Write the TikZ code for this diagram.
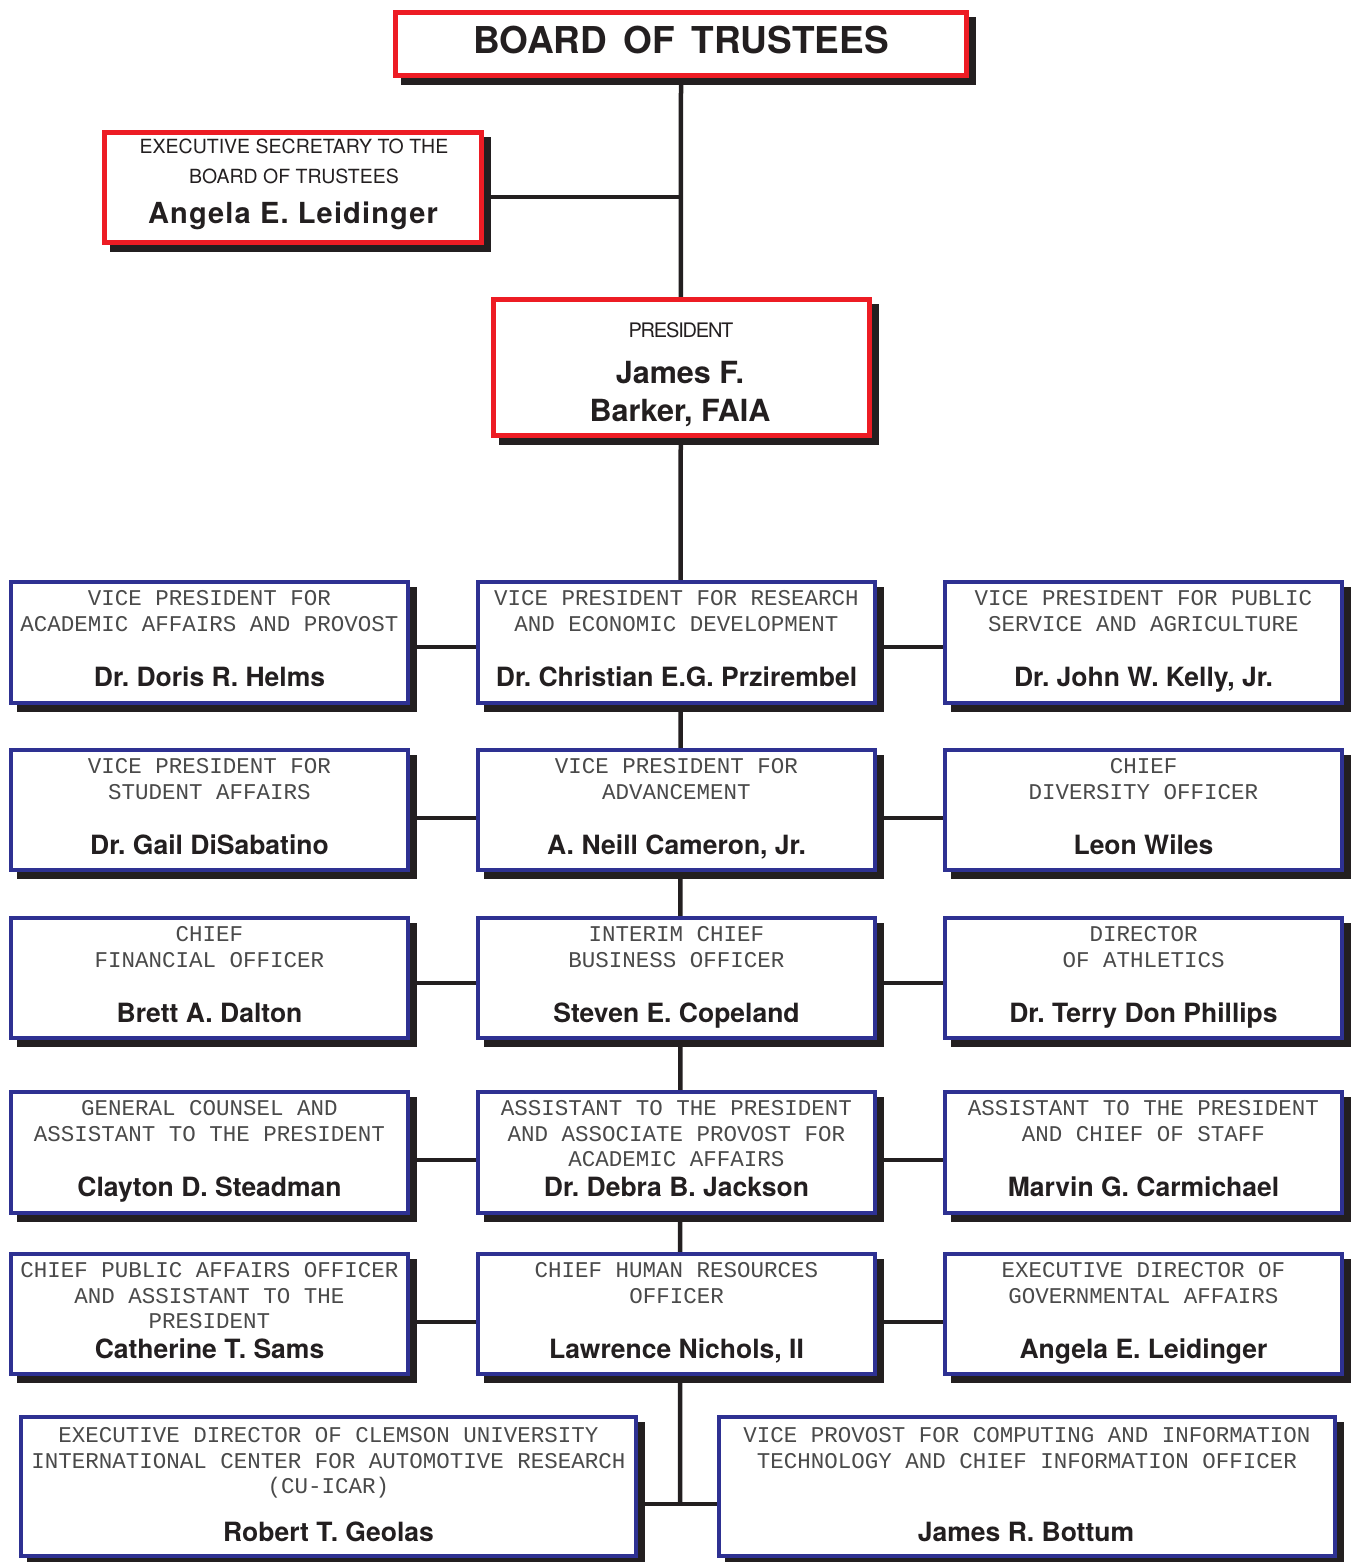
\documentclass[tikz,border=0pt]{standalone}
\usepackage{fontspec}
\setmainfont{TeX Gyre Heros}
\newfontfamily\monof{Liberation Mono}
\definecolor{redc}{HTML}{ED1C24}
\definecolor{bluec}{HTML}{2E3192}
\definecolor{shadowc}{HTML}{231F20}
\definecolor{txtc}{HTML}{231F20}
\definecolor{monoc}{HTML}{4A4A4A}
\tikzset{
  boxsty/.style={rectangle, fill=white, inner sep=0pt, outer sep=0pt},
  conn/.style={draw=shadowc, line width=4.5pt},
  mono/.style={font=\monof\fontsize{22.5}{26}\selectfont, text=monoc, inner sep=0pt, anchor=base},
  pname/.style={font=\bfseries\fontsize{26.5}{30}\selectfont, text=txtc, inner sep=0pt, anchor=base},
  stitle/.style={font=\fontsize{19.5}{22}\selectfont, text=txtc, inner sep=0pt, anchor=base},
}
% #1 name, #2 x1, #3 y1, #4 x2, #5 y2, #6 colour, #7 line width
\newcommand\orgbox[7]{%
  \fill[shadowc] ({#2+8},{#3+7}) rectangle ({#4+7},{#5+7});
  \node[boxsty, draw=#6, line width=#7pt, minimum width={#4-#2-#7}, minimum height={#5-#3-#7}]
    (#1) at ({(#2+#4)/2},{(#3+#5)/2}) {};
}
\begin{document}
\frenchspacing
\begin{tikzpicture}[x=1pt,y=-1pt]
\useasboundingbox (0,0) rectangle (1353,1562);
% ---------- connectors (behind the boxes) ----------
\coordinate (boardS) at (681,78);
\coordinate (bottomJ) at (680,1504);
\draw[conn] (boardS) -- (bottomJ);
\draw[conn] (484,197) coordinate (secE) -- (680,197) coordinate (secJ);
\foreach \yy/\nn in {647/1,818/2,983/3,1160/4,1322/5}{
  \draw[conn] (410,\yy) coordinate (le\nn) -- (476,\yy) coordinate (mw\nn);
  \draw[conn] (877,\yy) coordinate (me\nn) -- (943,\yy) coordinate (rw\nn);
}
\draw[conn] (638,1504) coordinate (blE) -- (bottomJ) -- (717,1504) coordinate (brW);

% ---------- red boxes ----------
\orgbox{board}{393}{10}{969}{78}{redc}{5}
\orgbox{sec}{102}{130}{484}{245}{redc}{5}
\orgbox{pres}{491}{297}{872}{438}{redc}{5}
% ---------- blue boxes ----------
\orgbox{L1}{9}{580}{410}{705}{bluec}{4}
\orgbox{M1}{476}{580}{877}{705}{bluec}{4}
\orgbox{R1}{943}{580}{1344}{705}{bluec}{4}
\orgbox{L2}{9}{748}{410}{872}{bluec}{4}
\orgbox{M2}{476}{748}{877}{872}{bluec}{4}
\orgbox{R2}{943}{748}{1344}{872}{bluec}{4}
\orgbox{L3}{9}{916}{410}{1040}{bluec}{4}
\orgbox{M3}{476}{916}{877}{1040}{bluec}{4}
\orgbox{R3}{943}{916}{1344}{1040}{bluec}{4}
\orgbox{L4}{9}{1090}{410}{1215}{bluec}{4}
\orgbox{M4}{476}{1090}{877}{1215}{bluec}{4}
\orgbox{R4}{943}{1090}{1344}{1215}{bluec}{4}
\orgbox{L5}{9}{1252}{410}{1376}{bluec}{4}
\orgbox{M5}{476}{1252}{877}{1376}{bluec}{4}
\orgbox{R5}{943}{1252}{1344}{1376}{bluec}{4}
\orgbox{BL}{19}{1415}{638}{1558}{bluec}{4}
\orgbox{BR}{717}{1415}{1337}{1558}{bluec}{4}

% ---------- texts ----------
\node[inner sep=0pt, anchor=base, text=txtc, font=\bfseries\fontsize{37}{40}\selectfont] (tboard) at (681,54) {BOARD\hspace{0.45em}OF\hspace{0.45em}TRUSTEES};

\node[stitle] (tsec1) at (294,154) {EXECUTIVE SECRETARY TO THE};
\node[stitle] (tsec2) at (294,184) {BOARD OF TRUSTEES};
\node[pname, font=\bfseries\fontsize{29}{32}\selectfont\addfontfeature{LetterSpace=4}] (tsec3) at (293,224) {Angela E. Leidinger};

\node[stitle, font=\fontsize{20}{22}\selectfont\addfontfeature{LetterSpace=-6}] (tpres1) at (681,337) {PRESIDENT};
\node[pname, font=\bfseries\fontsize{30.5}{34}\selectfont] (tpres2) at (680,383) {James F.};
\node[pname, font=\bfseries\fontsize{30.5}{34}\selectfont] (tpres3) at (680,421) {Barker, FAIA};

% row 1
\node[mono] (a1) at (209.5,605) {VICE PRESIDENT FOR};
\node[mono] (a2) at (209.5,631) {ACADEMIC AFFAIRS AND PROVOST};
\node[pname] (a3) at (209.5,686) {Dr. Doris R. Helms};
\node[mono] (b1) at (676.5,605) {VICE PRESIDENT FOR RESEARCH};
\node[mono] (b2) at (676.5,631) {AND ECONOMIC DEVELOPMENT};
\node[pname] (b3) at (676.5,686) {Dr. Christian E.G. Przirembel};
\node[mono] (c1) at (1143.5,605) {VICE PRESIDENT FOR PUBLIC};
\node[mono] (c2) at (1143.5,631) {SERVICE AND AGRICULTURE};
\node[pname] (c3) at (1143.5,686) {Dr. John W. Kelly, Jr.};
% row 2
\node[mono] (d1) at (209.5,773) {VICE PRESIDENT FOR};
\node[mono] (d2) at (209.5,799) {STUDENT AFFAIRS};
\node[pname] (d3) at (209.5,854) {Dr. Gail DiSabatino};
\node[mono] (e1) at (676.5,773) {VICE PRESIDENT FOR};
\node[mono] (e2) at (676.5,799) {ADVANCEMENT};
\node[pname] (e3) at (676.5,854) {A. Neill Cameron, Jr.};
\node[mono] (f1) at (1143.5,773) {CHIEF};
\node[mono] (f2) at (1143.5,799) {DIVERSITY OFFICER};
\node[pname] (f3) at (1143.5,854) {Leon Wiles};
% row 3
\node[mono] (g1) at (209.5,941) {CHIEF};
\node[mono] (g2) at (209.5,967) {FINANCIAL OFFICER};
\node[pname] (g3) at (209.5,1022) {Brett A. Dalton};
\node[mono] (h1) at (676.5,941) {INTERIM CHIEF};
\node[mono] (h2) at (676.5,967) {BUSINESS OFFICER};
\node[pname] (h3) at (676.5,1022) {Steven E. Copeland};
\node[mono] (i1) at (1143.5,941) {DIRECTOR};
\node[mono] (i2) at (1143.5,967) {OF ATHLETICS};
\node[pname] (i3) at (1143.5,1022) {Dr. Terry Don Phillips};
% row 4
\node[mono] (j1) at (209.5,1115) {GENERAL COUNSEL AND};
\node[mono] (j2) at (209.5,1141) {ASSISTANT TO THE PRESIDENT};
\node[pname] (j3) at (209.5,1196) {Clayton D. Steadman};
\node[mono] (k1) at (676.5,1115) {ASSISTANT TO THE PRESIDENT};
\node[mono] (k2) at (676.5,1141) {AND ASSOCIATE PROVOST FOR};
\node[mono] (k3) at (676.5,1166) {ACADEMIC AFFAIRS};
\node[pname] (k4) at (676.5,1196) {Dr. Debra B. Jackson};
\node[mono] (l1) at (1143.5,1115) {ASSISTANT TO THE PRESIDENT};
\node[mono] (l2) at (1143.5,1141) {AND CHIEF OF STAFF};
\node[pname] (l3) at (1143.5,1196) {Marvin G. Carmichael};
% row 5
\node[mono] (m1) at (209.5,1277) {CHIEF PUBLIC AFFAIRS OFFICER};
\node[mono] (m2) at (209.5,1303) {AND ASSISTANT TO THE};
\node[mono] (m3) at (209.5,1328) {PRESIDENT};
\node[pname] (m4) at (209.5,1358) {Catherine T. Sams};
\node[mono] (n1) at (676.5,1277) {CHIEF HUMAN RESOURCES};
\node[mono] (n2) at (676.5,1303) {OFFICER};
\node[pname] (n3) at (676.5,1358) {Lawrence Nichols, II};
\node[mono] (o1) at (1143.5,1277) {EXECUTIVE DIRECTOR OF};
\node[mono] (o2) at (1143.5,1303) {GOVERNMENTAL AFFAIRS};
\node[pname] (o3) at (1143.5,1358) {Angela E. Leidinger};
% bottom
\node[mono] (p1) at (328.5,1442) {EXECUTIVE DIRECTOR OF CLEMSON UNIVERSITY};
\node[mono] (p2) at (328.5,1468) {INTERNATIONAL CENTER FOR AUTOMOTIVE RESEARCH};
\node[mono] (p3) at (328.5,1493) {(CU-ICAR)};
\node[pname] (p4) at (328.5,1541) {Robert T. Geolas};
\node[mono] (q1) at (1027,1442) {VICE PROVOST FOR COMPUTING AND INFORMATION};
\node[mono] (q2) at (1027,1468) {TECHNOLOGY AND CHIEF INFORMATION OFFICER};
\node[pname] (q3) at (1026,1541) {James R. Bottum};
\end{tikzpicture}
\end{document}
